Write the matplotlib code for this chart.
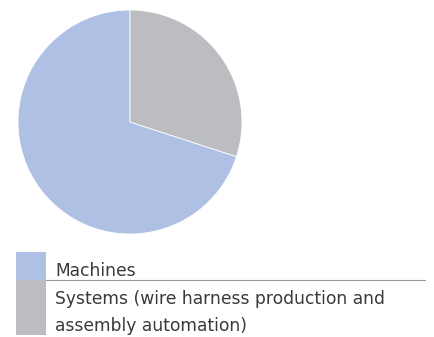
import matplotlib.pyplot as plt
from matplotlib.patches import Rectangle
from matplotlib.lines import Line2D

plt.rcParams['font.family'] = ['DejaVu Sans']

# share of sales by segment
segmentos = ["Machines", "Systems (wire harness production and\nassembly automation)"]
valores = [70, 30]
colores = ["#aec0e4", "#bcbdc1"]

W, H = 435, 337
fig = plt.figure(figsize=(W / 100, H / 100), dpi=100)

#%% pie
ax = fig.add_axes([18 / W, 1 - 234 / H, 224 / W, 224 / H])
ax.pie(valores, colors=colores, startangle=90, counterclock=True,
       wedgeprops=dict(linewidth=0.6, edgecolor="white"))
ax.set_xlim(-1, 1)
ax.set_ylim(-1, 1)
ax.set_aspect("equal")
ax.axis("off")

#%% legend drawn by hand (swatch blocks with text next to them)
filas = [(252, 280), (280, 335)]
for (y0, y1), texto, color in zip(filas, segmentos, colores):
    fig.patches.append(Rectangle((16 / W, 1 - y1 / H), 30 / W, (y1 - y0) / H,
                                 transform=fig.transFigure, facecolor=color,
                                 edgecolor="none"))
    # one text per line, baselines 27 px apart
    for k, linea in enumerate(texto.split("\n")):
        base = y0 + 24 + 27 * k
        fig.text(55 / W, 1 - base / H, linea, ha="left", va="baseline",
                 fontsize=12.3, color="#3a3a3a")

fig.lines.append(Line2D([46 / W, 425 / W], [1 - 280 / H, 1 - 280 / H],
                        transform=fig.transFigure, color="#9a9a9a", lw=0.8))

plt.savefig("out.png", dpi=100)
